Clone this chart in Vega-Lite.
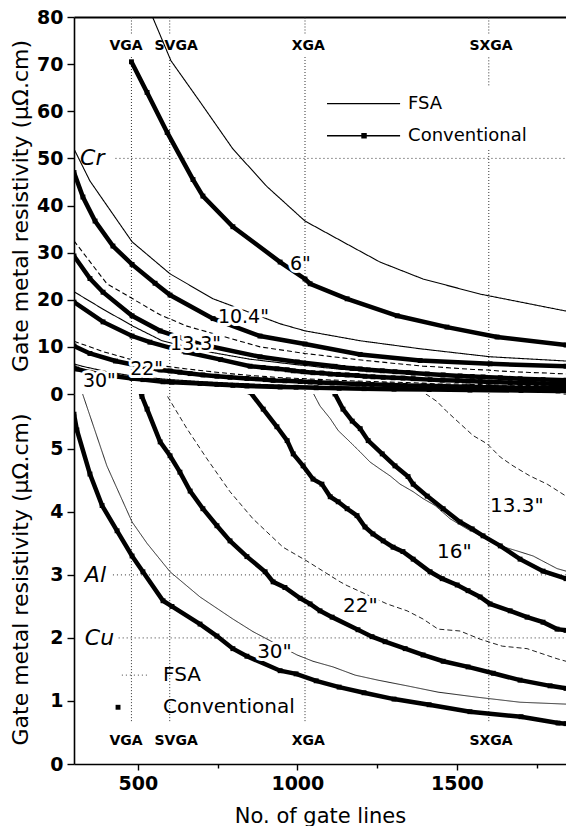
{
  "$schema": "https://vega.github.io/schema/vega-lite/v6.json",
  "background": "white",
  "padding": {"left": 9, "top": 8, "right": 0, "bottom": 0},
  "bounds": "flush",
  "spacing": 0,
  "config": {
    "view": {"stroke": null},
    "font": "DejaVu Sans",
    "axis": {
      "domainColor": "black", "tickColor": "black", "labelColor": "black", "titleColor": "black",
      "grid": false, "labelFont": "DejaVu Sans", "titleFont": "DejaVu Sans",
      "labelFontSize": 19, "labelFontWeight": "bold", "titleFontSize": 22, "titleFontWeight": "normal",
      "domainWidth": 1.6, "tickWidth": 1.4
    }
  },
  "datasets": {
    "curves": [
      {"screen":"6\"","method":"FSA","lines":540,"rho":81},{"screen":"6\"","method":"FSA","lines":604,"rho":70.7},{"screen":"6\"","method":"FSA","lines":695,"rho":62},{"screen":"6\"","method":"FSA","lines":798,"rho":52},{"screen":"6\"","method":"FSA","lines":905,"rho":44},{"screen":"6\"","method":"FSA","lines":1024,"rho":36.7},{"screen":"6\"","method":"FSA","lines":1156,"rho":31.8},{"screen":"6\"","method":"FSA","lines":1259,"rho":28},{"screen":"6\"","method":"FSA","lines":1394,"rho":24.4},{"screen":"6\"","method":"FSA","lines":1573,"rho":21.2},{"screen":"6\"","method":"FSA","lines":1730,"rho":19.1},{"screen":"6\"","method":"FSA","lines":1842,"rho":17.6},
      {"screen":"6\"","method":"Conv","lines":480,"rho":70.5},{"screen":"6\"","method":"Conv","lines":529,"rho":64},{"screen":"6\"","method":"Conv","lines":592,"rho":55.5},{"screen":"6\"","method":"Conv","lines":673,"rho":45.5},{"screen":"6\"","method":"Conv","lines":704,"rho":42},{"screen":"6\"","method":"Conv","lines":798,"rho":35.5},{"screen":"6\"","method":"Conv","lines":946,"rho":28},{"screen":"6\"","method":"Conv","lines":1024,"rho":24.4},{"screen":"6\"","method":"Conv","lines":1040,"rho":23.4},{"screen":"6\"","method":"Conv","lines":1156,"rho":20.2},{"screen":"6\"","method":"Conv","lines":1313,"rho":16.6},{"screen":"6\"","method":"Conv","lines":1469,"rho":14.2},{"screen":"6\"","method":"Conv","lines":1626,"rho":12.1},{"screen":"6\"","method":"Conv","lines":1842,"rho":10.4},
      {"screen":"10.4\"","method":"FSA","lines":300,"rho":52},{"screen":"10.4\"","method":"FSA","lines":350,"rho":45.2},{"screen":"10.4\"","method":"FSA","lines":482,"rho":32.3},{"screen":"10.4\"","method":"FSA","lines":601,"rho":25.5},{"screen":"10.4\"","method":"FSA","lines":736,"rho":20.2},{"screen":"10.4\"","method":"FSA","lines":946,"rho":14.9},{"screen":"10.4\"","method":"FSA","lines":1024,"rho":13.4},{"screen":"10.4\"","method":"FSA","lines":1197,"rho":11.3},{"screen":"10.4\"","method":"FSA","lines":1385,"rho":9.6},{"screen":"10.4\"","method":"FSA","lines":1604,"rho":7.9},{"screen":"10.4\"","method":"FSA","lines":1842,"rho":7.0},
      {"screen":"10.4\"","method":"Conv","lines":300,"rho":47},{"screen":"10.4\"","method":"Conv","lines":328,"rho":41.8},{"screen":"10.4\"","method":"Conv","lines":366,"rho":36.7},{"screen":"10.4\"","method":"Conv","lines":422,"rho":31.4},{"screen":"10.4\"","method":"Conv","lines":482,"rho":27.5},{"screen":"10.4\"","method":"Conv","lines":554,"rho":23.5},{"screen":"10.4\"","method":"Conv","lines":601,"rho":21},{"screen":"10.4\"","method":"Conv","lines":736,"rho":16},{"screen":"10.4\"","method":"Conv","lines":883,"rho":12.3},{"screen":"10.4\"","method":"Conv","lines":1024,"rho":10.6},{"screen":"10.4\"","method":"Conv","lines":1197,"rho":8.4},{"screen":"10.4\"","method":"Conv","lines":1385,"rho":7.1},{"screen":"10.4\"","method":"Conv","lines":1604,"rho":6.4},{"screen":"10.4\"","method":"Conv","lines":1842,"rho":5.9},
      {"screen":"13.3\"","method":"FSA","lines":300,"rho":32.5},{"screen":"13.3\"","method":"FSA","lines":403,"rho":23.4},{"screen":"13.3\"","method":"FSA","lines":570,"rho":16.8},{"screen":"13.3\"","method":"FSA","lines":654,"rho":14.4},{"screen":"13.3\"","method":"FSA","lines":883,"rho":10},{"screen":"13.3\"","method":"FSA","lines":1024,"rho":8.6},{"screen":"13.3\"","method":"FSA","lines":1200,"rho":7.2},{"screen":"13.3\"","method":"FSA","lines":1394,"rho":5.9},{"screen":"13.3\"","method":"FSA","lines":1438,"rho":5.75},{"screen":"13.3\"","method":"FSA","lines":1469,"rho":5.59},{"screen":"13.3\"","method":"FSA","lines":1510,"rho":5.4},{"screen":"13.3\"","method":"FSA","lines":1551,"rho":5.21},{"screen":"13.3\"","method":"FSA","lines":1595,"rho":5.08},{"screen":"13.3\"","method":"FSA","lines":1636,"rho":4.87},{"screen":"13.3\"","method":"FSA","lines":1676,"rho":4.73},{"screen":"13.3\"","method":"FSA","lines":1729,"rho":4.57},{"screen":"13.3\"","method":"FSA","lines":1783,"rho":4.44},{"screen":"13.3\"","method":"FSA","lines":1842,"rho":4.25},
      {"screen":"13.3\"","method":"Conv","lines":300,"rho":29.3},{"screen":"13.3\"","method":"Conv","lines":350,"rho":24.5},{"screen":"13.3\"","method":"Conv","lines":391,"rho":21.6},{"screen":"13.3\"","method":"Conv","lines":482,"rho":16.6},{"screen":"13.3\"","method":"Conv","lines":570,"rho":13.4},{"screen":"13.3\"","method":"Conv","lines":700,"rho":10.5},{"screen":"13.3\"","method":"Conv","lines":883,"rho":7.9},{"screen":"13.3\"","method":"Conv","lines":1000,"rho":6.8},{"screen":"13.3\"","method":"Conv","lines":1118,"rho":5.87},{"screen":"13.3\"","method":"Conv","lines":1143,"rho":5.63},{"screen":"13.3\"","method":"Conv","lines":1172,"rho":5.44},{"screen":"13.3\"","method":"Conv","lines":1197,"rho":5.32},{"screen":"13.3\"","method":"Conv","lines":1222,"rho":5.13},{"screen":"13.3\"","method":"Conv","lines":1266,"rho":4.92},{"screen":"13.3\"","method":"Conv","lines":1306,"rho":4.73},{"screen":"13.3\"","method":"Conv","lines":1347,"rho":4.56},{"screen":"13.3\"","method":"Conv","lines":1363,"rho":4.44},{"screen":"13.3\"","method":"Conv","lines":1407,"rho":4.25},{"screen":"13.3\"","method":"Conv","lines":1457,"rho":4.05},{"screen":"13.3\"","method":"Conv","lines":1510,"rho":3.84},{"screen":"13.3\"","method":"Conv","lines":1548,"rho":3.73},{"screen":"13.3\"","method":"Conv","lines":1582,"rho":3.62},{"screen":"13.3\"","method":"Conv","lines":1636,"rho":3.46},{"screen":"13.3\"","method":"Conv","lines":1698,"rho":3.25},{"screen":"13.3\"","method":"Conv","lines":1770,"rho":3.06},{"screen":"13.3\"","method":"Conv","lines":1842,"rho":2.94},
      {"screen":"16\"","method":"FSA","lines":300,"rho":21.7},{"screen":"16\"","method":"FSA","lines":391,"rho":18},{"screen":"16\"","method":"FSA","lines":485,"rho":14.4},{"screen":"16\"","method":"FSA","lines":576,"rho":11.3},{"screen":"16\"","method":"FSA","lines":700,"rho":9.2},{"screen":"16\"","method":"FSA","lines":850,"rho":7.4},{"screen":"16\"","method":"FSA","lines":1000,"rho":6.2},{"screen":"16\"","method":"FSA","lines":1046,"rho":5.92},{"screen":"16\"","method":"FSA","lines":1071,"rho":5.68},{"screen":"16\"","method":"FSA","lines":1103,"rho":5.48},{"screen":"16\"","method":"FSA","lines":1128,"rho":5.29},{"screen":"16\"","method":"FSA","lines":1165,"rho":5.11},{"screen":"16\"","method":"FSA","lines":1197,"rho":4.95},{"screen":"16\"","method":"FSA","lines":1228,"rho":4.79},{"screen":"16\"","method":"FSA","lines":1259,"rho":4.68},{"screen":"16\"","method":"FSA","lines":1291,"rho":4.57},{"screen":"16\"","method":"FSA","lines":1322,"rho":4.44},{"screen":"16\"","method":"FSA","lines":1363,"rho":4.32},{"screen":"16\"","method":"FSA","lines":1394,"rho":4.21},{"screen":"16\"","method":"FSA","lines":1432,"rho":4.1},{"screen":"16\"","method":"FSA","lines":1479,"rho":3.89},{"screen":"16\"","method":"FSA","lines":1532,"rho":3.73},{"screen":"16\"","method":"FSA","lines":1582,"rho":3.6},{"screen":"16\"","method":"FSA","lines":1636,"rho":3.46},{"screen":"16\"","method":"FSA","lines":1689,"rho":3.38},{"screen":"16\"","method":"FSA","lines":1739,"rho":3.3},{"screen":"16\"","method":"FSA","lines":1814,"rho":3.1},{"screen":"16\"","method":"FSA","lines":1842,"rho":3.06},
      {"screen":"16\"","method":"Conv","lines":300,"rho":19.5},{"screen":"16\"","method":"Conv","lines":391,"rho":15.3},{"screen":"16\"","method":"Conv","lines":482,"rho":12.3},{"screen":"16\"","method":"Conv","lines":538,"rho":11},{"screen":"16\"","method":"Conv","lines":650,"rho":8.9},{"screen":"16\"","method":"Conv","lines":760,"rho":7.3},{"screen":"16\"","method":"Conv","lines":852,"rho":5.9},{"screen":"16\"","method":"Conv","lines":893,"rho":5.63},{"screen":"16\"","method":"Conv","lines":936,"rho":5.35},{"screen":"16\"","method":"Conv","lines":968,"rho":5.13},{"screen":"16\"","method":"Conv","lines":987,"rho":4.92},{"screen":"16\"","method":"Conv","lines":1018,"rho":4.73},{"screen":"16\"","method":"Conv","lines":1049,"rho":4.52},{"screen":"16\"","method":"Conv","lines":1077,"rho":4.44},{"screen":"16\"","method":"Conv","lines":1103,"rho":4.24},{"screen":"16\"","method":"Conv","lines":1128,"rho":4.16},{"screen":"16\"","method":"Conv","lines":1156,"rho":4.05},{"screen":"16\"","method":"Conv","lines":1187,"rho":3.94},{"screen":"16\"","method":"Conv","lines":1212,"rho":3.76},{"screen":"16\"","method":"Conv","lines":1237,"rho":3.65},{"screen":"16\"","method":"Conv","lines":1269,"rho":3.54},{"screen":"16\"","method":"Conv","lines":1300,"rho":3.44},{"screen":"16\"","method":"Conv","lines":1331,"rho":3.37},{"screen":"16\"","method":"Conv","lines":1363,"rho":3.25},{"screen":"16\"","method":"Conv","lines":1416,"rho":3.05},{"screen":"16\"","method":"Conv","lines":1454,"rho":2.94},{"screen":"16\"","method":"Conv","lines":1501,"rho":2.84},{"screen":"16\"","method":"Conv","lines":1535,"rho":2.75},{"screen":"16\"","method":"Conv","lines":1573,"rho":2.65},{"screen":"16\"","method":"Conv","lines":1604,"rho":2.54},{"screen":"16\"","method":"Conv","lines":1667,"rho":2.43},{"screen":"16\"","method":"Conv","lines":1720,"rho":2.33},{"screen":"16\"","method":"Conv","lines":1770,"rho":2.25},{"screen":"16\"","method":"Conv","lines":1814,"rho":2.14},{"screen":"16\"","method":"Conv","lines":1842,"rho":2.12},
      {"screen":"22\"","method":"FSA","lines":300,"rho":11.2},{"screen":"22\"","method":"FSA","lines":391,"rho":9.0},{"screen":"22\"","method":"FSA","lines":480,"rho":7.3},{"screen":"22\"","method":"FSA","lines":585,"rho":5.9},{"screen":"22\"","method":"FSA","lines":654,"rho":5.32},{"screen":"22\"","method":"FSA","lines":717,"rho":4.84},{"screen":"22\"","method":"FSA","lines":789,"rho":4.32},{"screen":"22\"","method":"FSA","lines":861,"rho":3.89},{"screen":"22\"","method":"FSA","lines":955,"rho":3.44},{"screen":"22\"","method":"FSA","lines":1030,"rho":3.22},{"screen":"22\"","method":"FSA","lines":1134,"rho":2.89},{"screen":"22\"","method":"FSA","lines":1156,"rho":2.83},{"screen":"22\"","method":"FSA","lines":1281,"rho":2.54},{"screen":"22\"","method":"FSA","lines":1344,"rho":2.43},{"screen":"22\"","method":"FSA","lines":1394,"rho":2.3},{"screen":"22\"","method":"FSA","lines":1441,"rho":2.14},{"screen":"22\"","method":"FSA","lines":1510,"rho":2.11},{"screen":"22\"","method":"FSA","lines":1573,"rho":1.98},{"screen":"22\"","method":"FSA","lines":1642,"rho":1.87},{"screen":"22\"","method":"FSA","lines":1720,"rho":1.83},{"screen":"22\"","method":"FSA","lines":1814,"rho":1.67},{"screen":"22\"","method":"FSA","lines":1842,"rho":1.63},
      {"screen":"22\"","method":"Conv","lines":300,"rho":10.2},{"screen":"22\"","method":"Conv","lines":350,"rho":8.6},{"screen":"22\"","method":"Conv","lines":430,"rho":7.0},{"screen":"22\"","method":"Conv","lines":513,"rho":5.83},{"screen":"22\"","method":"Conv","lines":529,"rho":5.63},{"screen":"22\"","method":"Conv","lines":570,"rho":5.11},{"screen":"22\"","method":"Conv","lines":601,"rho":4.89},{"screen":"22\"","method":"Conv","lines":632,"rho":4.63},{"screen":"22\"","method":"Conv","lines":664,"rho":4.33},{"screen":"22\"","method":"Conv","lines":704,"rho":4.05},{"screen":"22\"","method":"Conv","lines":748,"rho":3.78},{"screen":"22\"","method":"Conv","lines":789,"rho":3.54},{"screen":"22\"","method":"Conv","lines":842,"rho":3.29},{"screen":"22\"","method":"Conv","lines":899,"rho":3.05},{"screen":"22\"","method":"Conv","lines":924,"rho":2.89},{"screen":"22\"","method":"Conv","lines":961,"rho":2.8},{"screen":"22\"","method":"Conv","lines":1009,"rho":2.63},{"screen":"22\"","method":"Conv","lines":1040,"rho":2.54},{"screen":"22\"","method":"Conv","lines":1071,"rho":2.43},{"screen":"22\"","method":"Conv","lines":1109,"rho":2.33},{"screen":"22\"","method":"Conv","lines":1190,"rho":2.13},{"screen":"22\"","method":"Conv","lines":1234,"rho":2.02},{"screen":"22\"","method":"Conv","lines":1275,"rho":1.94},{"screen":"22\"","method":"Conv","lines":1338,"rho":1.83},{"screen":"22\"","method":"Conv","lines":1394,"rho":1.73},{"screen":"22\"","method":"Conv","lines":1457,"rho":1.63},{"screen":"22\"","method":"Conv","lines":1535,"rho":1.54},{"screen":"22\"","method":"Conv","lines":1614,"rho":1.44},{"screen":"22\"","method":"Conv","lines":1698,"rho":1.33},{"screen":"22\"","method":"Conv","lines":1792,"rho":1.24},{"screen":"22\"","method":"Conv","lines":1842,"rho":1.2},
      {"screen":"30\"","method":"FSA","lines":300,"rho":6.4},{"screen":"30\"","method":"FSA","lines":325,"rho":5.9},{"screen":"30\"","method":"FSA","lines":403,"rho":4.73},{"screen":"30\"","method":"FSA","lines":482,"rho":3.84},{"screen":"30\"","method":"FSA","lines":529,"rho":3.5},{"screen":"30\"","method":"FSA","lines":601,"rho":3.05},{"screen":"30\"","method":"FSA","lines":695,"rho":2.65},{"screen":"30\"","method":"FSA","lines":798,"rho":2.3},{"screen":"30\"","method":"FSA","lines":861,"rho":2.1},{"screen":"30\"","method":"FSA","lines":999,"rho":1.73},{"screen":"30\"","method":"FSA","lines":1049,"rho":1.63},{"screen":"30\"","method":"FSA","lines":1112,"rho":1.54},{"screen":"30\"","method":"FSA","lines":1181,"rho":1.41},{"screen":"30\"","method":"FSA","lines":1253,"rho":1.33},{"screen":"30\"","method":"FSA","lines":1344,"rho":1.24},{"screen":"30\"","method":"FSA","lines":1441,"rho":1.14},{"screen":"30\"","method":"FSA","lines":1563,"rho":1.06},{"screen":"30\"","method":"FSA","lines":1698,"rho":0.98},{"screen":"30\"","method":"FSA","lines":1842,"rho":0.95},
      {"screen":"30\"","method":"Conv","lines":300,"rho":5.55},{"screen":"30\"","method":"Conv","lines":309,"rho":5.3},{"screen":"30\"","method":"Conv","lines":350,"rho":4.6},{"screen":"30\"","method":"Conv","lines":388,"rho":4.1},{"screen":"30\"","method":"Conv","lines":435,"rho":3.7},{"screen":"30\"","method":"Conv","lines":482,"rho":3.3},{"screen":"30\"","method":"Conv","lines":516,"rho":3.05},{"screen":"30\"","method":"Conv","lines":579,"rho":2.59},{"screen":"30\"","method":"Conv","lines":607,"rho":2.5},{"screen":"30\"","method":"Conv","lines":695,"rho":2.22},{"screen":"30\"","method":"Conv","lines":748,"rho":2.03},{"screen":"30\"","method":"Conv","lines":798,"rho":1.83},{"screen":"30\"","method":"Conv","lines":842,"rho":1.71},{"screen":"30\"","method":"Conv","lines":946,"rho":1.48},{"screen":"30\"","method":"Conv","lines":996,"rho":1.43},{"screen":"30\"","method":"Conv","lines":1059,"rho":1.32},{"screen":"30\"","method":"Conv","lines":1131,"rho":1.22},{"screen":"30\"","method":"Conv","lines":1209,"rho":1.13},{"screen":"30\"","method":"Conv","lines":1303,"rho":1.03},{"screen":"30\"","method":"Conv","lines":1413,"rho":0.94},{"screen":"30\"","method":"Conv","lines":1541,"rho":0.83},{"screen":"30\"","method":"Conv","lines":1701,"rho":0.75},{"screen":"30\"","method":"Conv","lines":1817,"rho":0.65},{"screen":"30\"","method":"Conv","lines":1842,"rho":0.64}
    ],
    "vsegs": [
      {"panel":"top","res":"VGA","lines":480,"lo":0,"hi":71.5},{"panel":"top","res":"VGA","lines":480,"lo":76.5,"hi":80},
      {"panel":"top","res":"SVGA","lines":600,"lo":0,"hi":71.5},{"panel":"top","res":"SVGA","lines":600,"lo":76.5,"hi":80},
      {"panel":"top","res":"XGA","lines":1024,"lo":0,"hi":71.5},{"panel":"top","res":"XGA","lines":1024,"lo":76.5,"hi":80},
      {"panel":"top","res":"SXGA","lines":1600,"lo":0,"hi":52},{"panel":"top","res":"SXGA","lines":1600,"lo":65.5,"hi":71.5},{"panel":"top","res":"SXGA","lines":1600,"lo":76.5,"hi":80},
      {"panel":"bottom","res":"VGA","lines":480,"lo":0.68,"hi":5.87},{"panel":"bottom","res":"SVGA","lines":600,"lo":0.68,"hi":5.87},
      {"panel":"bottom","res":"XGA","lines":1024,"lo":0.68,"hi":5.87},{"panel":"bottom","res":"SXGA","lines":1600,"lo":0.68,"hi":5.87}
    ],
    "reslabels": [
      {"panel":"top","res":"VGA","lines":463,"rho":73.8},{"panel":"top","res":"SVGA","lines":620,"rho":73.8},{"panel":"top","res":"XGA","lines":1034,"rho":73.8},{"panel":"top","res":"SXGA","lines":1607,"rho":73.8},
      {"panel":"bottom","res":"VGA","lines":463,"rho":0.37},{"panel":"bottom","res":"SVGA","lines":620,"rho":0.37},{"panel":"bottom","res":"XGA","lines":1034,"rho":0.37},{"panel":"bottom","res":"SXGA","lines":1607,"rho":0.37}
    ],
    "metals": [
      {"panel":"top","metal":"Cr","rho":50,"from":430,"to":1842,"labelAt":319},
      {"panel":"bottom","metal":"Al","rho":3,"from":422,"to":1842,"labelAt":334},
      {"panel":"bottom","metal":"Cu","rho":2,"from":440,"to":1842,"labelAt":334}
    ],
    "sizelabels": [
      {"panel":"top","label":"6\"","lines":977,"rho":27.6},
      {"panel":"top","label":"10.4\"","lines":751,"rho":16.3},
      {"panel":"top","label":"13.3\"","lines":601,"rho":10.6},
      {"panel":"top","label":"22\"","lines":476,"rho":5.3},
      {"panel":"top","label":"30\"","lines":328,"rho":2.8},
      {"panel":"bottom","label":"13.3\"","lines":1604,"rho":4.1},
      {"panel":"bottom","label":"16\"","lines":1438,"rho":3.37},
      {"panel":"bottom","label":"22\"","lines":1143,"rho":2.5},
      {"panel":"bottom","label":"30\"","lines":874,"rho":1.78}
    ],
    "legend": [
      {"panel":"top","item":"FSA","lineFrom":1093,"lineTo":1322,"marker":null,"textAt":1347,"rho":61.6},
      {"panel":"top","item":"Conventional","lineFrom":1093,"lineTo":1322,"marker":1209,"textAt":1347,"rho":54.8},
      {"panel":"bottom","item":"FSA","lineFrom":450,"lineTo":532,"marker":null,"textAt":579,"rho":1.41},
      {"panel":"bottom","item":"Conventional","lineFrom":null,"lineTo":null,"marker":438,"textAt":579,"rho":0.9}
    ]
  },
  "vconcat": [
    {
      "width": 492,
      "height": 377,
      "layer": [
        {
          "data": {"name": "vsegs"},
          "transform": [{"filter": "datum.panel === 'top'"}],
          "mark": {"type": "rule", "color": "#333", "strokeWidth": 1, "strokeDash": [1, 2]},
          "encoding": {
            "x": {"field": "lines", "type": "quantitative", "scale": {"domain": [300, 1842], "nice": false, "zero": false},
                  "axis": {"orient": "top", "labels": false, "ticks": false, "title": null, "domainWidth": 2.2}},
            "y": {"field": "lo", "type": "quantitative", "scale": {"domain": [0, 80], "nice": false},
                  "axis": {"title": "Gate metal resistivity (μΩ.cm)", "titleX": -54, "titleBaseline": "middle",
                           "values": [0,5,10,15,20,25,30,35,40,45,50,55,60,65,70,75,80],
                           "labelExpr": "datum.value % 10 === 0 ? '' + datum.value : ''",
                           "tickSize": {"condition": {"test": "datum.value % 10 === 0", "value": 7}, "value": 4},
                           "labelPadding": 4}},
            "y2": {"field": "hi"}
          }
        },
        {
          "data": {"name": "metals"},
          "transform": [{"filter": "datum.panel === 'top'"}],
          "mark": {"type": "rule", "color": "#333", "strokeWidth": 1, "strokeDash": [1, 3]},
          "encoding": {"x": {"field": "from", "type": "quantitative"}, "x2": {"field": "to"}, "y": {"field": "rho", "type": "quantitative"}}
        },
        {
          "data": {"name": "metals"},
          "transform": [{"filter": "datum.panel === 'top'"}],
          "mark": {"type": "text", "align": "left", "baseline": "middle", "fontSize": 22, "fontStyle": "italic", "color": "black"},
          "encoding": {"x": {"field": "labelAt", "type": "quantitative"}, "y": {"field": "rho", "type": "quantitative"}, "text": {"field": "metal"}}
        },
        {
          "data": {"name": "curves"},
          "transform": [{"filter": "datum.method === 'FSA'"}],
          "mark": {"type": "line", "clip": true, "strokeWidth": 1.1, "color": "black"},
          "encoding": {
            "x": {"field": "lines", "type": "quantitative"},
            "y": {"field": "rho", "type": "quantitative"},
            "strokeDash": {"field": "screen", "type": "nominal", "legend": null,
                           "scale": {"domain": ["6\"","10.4\"","13.3\"","16\"","22\"","30\""], "range": [[1,0],[1,0],[5,3],[1,0],[5,3],[1,0]]}}
          }
        },
        {
          "data": {"name": "curves"},
          "transform": [{"filter": "datum.method === 'Conv'"}],
          "mark": {"type": "line", "clip": true, "strokeWidth": 4.5, "color": "black"},
          "encoding": {"x": {"field": "lines", "type": "quantitative"}, "y": {"field": "rho", "type": "quantitative"}, "detail": {"field": "screen"}}
        },
        {
          "data": {"name": "curves"},
          "transform": [{"filter": "datum.method === 'Conv'"}],
          "mark": {"type": "point", "clip": true, "shape": "square", "filled": true, "size": 24, "color": "black", "opacity": 1},
          "encoding": {"x": {"field": "lines", "type": "quantitative"}, "y": {"field": "rho", "type": "quantitative"}}
        },
        {
          "data": {"name": "reslabels"},
          "transform": [{"filter": "datum.panel === 'top'"}],
          "mark": {"type": "text", "align": "center", "baseline": "middle", "fontSize": 14, "fontWeight": "bold", "color": "black"},
          "encoding": {"x": {"field": "lines", "type": "quantitative"}, "y": {"field": "rho", "type": "quantitative"}, "text": {"field": "res"}}
        },
        {
          "data": {"name": "sizelabels"},
          "transform": [{"filter": "datum.panel === 'top'"}],
          "mark": {"type": "text", "align": "left", "baseline": "middle", "fontSize": 19, "color": "white", "stroke": "white", "strokeWidth": 6, "strokeJoin": "round"},
          "encoding": {"x": {"field": "lines", "type": "quantitative"}, "y": {"field": "rho", "type": "quantitative"}, "text": {"field": "label"}}
        },
        {
          "data": {"name": "sizelabels"},
          "transform": [{"filter": "datum.panel === 'top'"}],
          "mark": {"type": "text", "align": "left", "baseline": "middle", "fontSize": 19, "color": "black"},
          "encoding": {"x": {"field": "lines", "type": "quantitative"}, "y": {"field": "rho", "type": "quantitative"}, "text": {"field": "label"}}
        },
        {
          "data": {"name": "legend"},
          "transform": [{"filter": "datum.panel === 'top'"}],
          "mark": {"type": "rule", "color": "black", "strokeWidth": 1.3},
          "encoding": {"x": {"field": "lineFrom", "type": "quantitative"}, "x2": {"field": "lineTo"}, "y": {"field": "rho", "type": "quantitative"}}
        },
        {
          "data": {"name": "legend"},
          "transform": [{"filter": "datum.panel === 'top' && datum.marker !== null"}],
          "mark": {"type": "point", "shape": "square", "filled": true, "size": 30, "color": "black", "opacity": 1},
          "encoding": {"x": {"field": "marker", "type": "quantitative"}, "y": {"field": "rho", "type": "quantitative"}}
        },
        {
          "data": {"name": "legend"},
          "transform": [{"filter": "datum.panel === 'top'"}],
          "mark": {"type": "text", "align": "left", "baseline": "middle", "fontSize": 18, "color": "black"},
          "encoding": {"x": {"field": "textAt", "type": "quantitative"}, "y": {"field": "rho", "type": "quantitative"}, "text": {"field": "item"}}
        }
      ]
    },
    {
      "width": 492,
      "height": 370,
      "layer": [
        {
          "data": {"name": "vsegs"},
          "transform": [{"filter": "datum.panel === 'bottom'"}],
          "mark": {"type": "rule", "color": "#333", "strokeWidth": 1, "strokeDash": [1, 2]},
          "encoding": {
            "x": {"field": "lines", "type": "quantitative", "scale": {"domain": [300, 1842], "nice": false, "zero": false},
                  "axis": {"title": "No. of gate lines", "titleFontSize": 21, "titlePadding": 12,
                           "values": [500, 750, 1000, 1250, 1500, 1750],
                           "labelExpr": "datum.value % 500 === 0 ? '' + datum.value : ''",
                           "tickSize": {"condition": {"test": "datum.value % 500 === 0", "value": 6}, "value": 4},
                           "labelPadding": 4}},
            "y": {"field": "lo", "type": "quantitative", "scale": {"domain": [0, 5.87], "nice": false},
                  "axis": {"title": "Gate metal resistivity (μΩ.cm)", "titleX": -54, "titleBaseline": "middle",
                           "values": [0, 0.5, 1, 1.5, 2, 2.5, 3, 3.5, 4, 4.5, 5, 5.5],
                           "labelExpr": "datum.value % 1 === 0 ? '' + datum.value : ''",
                           "tickSize": {"condition": {"test": "datum.value % 1 === 0", "value": 7}, "value": 4},
                           "labelPadding": 4}},
            "y2": {"field": "hi"}
          }
        },
        {
          "data": {"name": "metals"},
          "transform": [{"filter": "datum.panel === 'bottom'"}],
          "mark": {"type": "rule", "color": "#333", "strokeWidth": 1, "strokeDash": [1, 3]},
          "encoding": {"x": {"field": "from", "type": "quantitative"}, "x2": {"field": "to"}, "y": {"field": "rho", "type": "quantitative"}}
        },
        {
          "data": {"name": "metals"},
          "transform": [{"filter": "datum.panel === 'bottom'"}],
          "mark": {"type": "text", "align": "left", "baseline": "middle", "fontSize": 22, "fontStyle": "italic", "color": "black"},
          "encoding": {"x": {"field": "labelAt", "type": "quantitative"}, "y": {"field": "rho", "type": "quantitative"}, "text": {"field": "metal"}}
        },
        {
          "data": {"name": "curves"},
          "transform": [{"filter": "datum.method === 'FSA'"}],
          "mark": {"type": "line", "clip": true, "strokeWidth": 1, "color": "#222"},
          "encoding": {
            "x": {"field": "lines", "type": "quantitative"},
            "y": {"field": "rho", "type": "quantitative"},
            "strokeDash": {"field": "screen", "type": "nominal", "legend": null,
                           "scale": {"domain": ["6\"","10.4\"","13.3\"","16\"","22\"","30\""], "range": [[1,0],[1,0],[3,2],[1,0],[3,2],[1,0]]}}
          }
        },
        {
          "data": {"name": "curves"},
          "transform": [{"filter": "datum.method === 'Conv'"}],
          "mark": {"type": "line", "clip": true, "strokeWidth": 4.5, "color": "black"},
          "encoding": {"x": {"field": "lines", "type": "quantitative"}, "y": {"field": "rho", "type": "quantitative"}, "detail": {"field": "screen"}}
        },
        {
          "data": {"name": "curves"},
          "transform": [{"filter": "datum.method === 'Conv'"}],
          "mark": {"type": "point", "clip": true, "shape": "square", "filled": true, "size": 24, "color": "black", "opacity": 1},
          "encoding": {"x": {"field": "lines", "type": "quantitative"}, "y": {"field": "rho", "type": "quantitative"}}
        },
        {
          "data": {"name": "reslabels"},
          "transform": [{"filter": "datum.panel === 'bottom'"}],
          "mark": {"type": "text", "align": "center", "baseline": "middle", "fontSize": 14, "fontWeight": "bold", "color": "black"},
          "encoding": {"x": {"field": "lines", "type": "quantitative"}, "y": {"field": "rho", "type": "quantitative"}, "text": {"field": "res"}}
        },
        {
          "data": {"name": "sizelabels"},
          "transform": [{"filter": "datum.panel === 'bottom'"}],
          "mark": {"type": "text", "align": "left", "baseline": "middle", "fontSize": 20, "color": "white", "stroke": "white", "strokeWidth": 6, "strokeJoin": "round"},
          "encoding": {"x": {"field": "lines", "type": "quantitative"}, "y": {"field": "rho", "type": "quantitative"}, "text": {"field": "label"}}
        },
        {
          "data": {"name": "sizelabels"},
          "transform": [{"filter": "datum.panel === 'bottom'"}],
          "mark": {"type": "text", "align": "left", "baseline": "middle", "fontSize": 20, "color": "black"},
          "encoding": {"x": {"field": "lines", "type": "quantitative"}, "y": {"field": "rho", "type": "quantitative"}, "text": {"field": "label"}}
        },
        {
          "data": {"name": "legend"},
          "transform": [{"filter": "datum.panel === 'bottom' && datum.lineFrom !== null"}],
          "mark": {"type": "rule", "color": "#444", "strokeWidth": 1, "strokeDash": [1, 3]},
          "encoding": {"x": {"field": "lineFrom", "type": "quantitative"}, "x2": {"field": "lineTo"}, "y": {"field": "rho", "type": "quantitative"}}
        },
        {
          "data": {"name": "legend"},
          "transform": [{"filter": "datum.panel === 'bottom' && datum.marker !== null"}],
          "mark": {"type": "point", "shape": "square", "filled": true, "size": 24, "color": "black", "opacity": 1},
          "encoding": {"x": {"field": "marker", "type": "quantitative"}, "y": {"field": "rho", "type": "quantitative"}}
        },
        {
          "data": {"name": "legend"},
          "transform": [{"filter": "datum.panel === 'bottom'"}],
          "mark": {"type": "text", "align": "left", "baseline": "middle", "fontSize": 20, "color": "black"},
          "encoding": {"x": {"field": "textAt", "type": "quantitative"}, "y": {"field": "rho", "type": "quantitative"}, "text": {"field": "item"}}
        }
      ]
    }
  ]
}
